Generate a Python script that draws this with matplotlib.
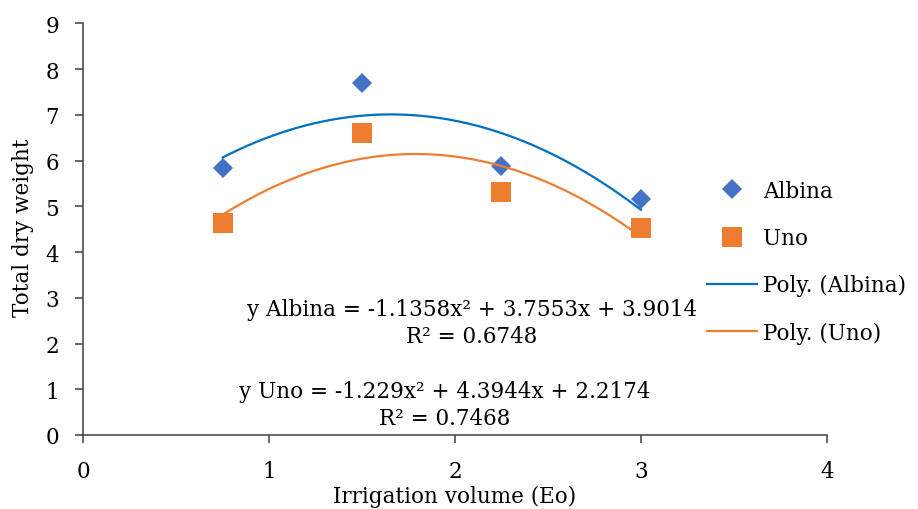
import numpy as np
import matplotlib
matplotlib.use("Agg")
import matplotlib.pyplot as plt

# data
irrigation = [0.75, 1.5, 2.25, 3.0]
albina = [5.83, 7.69, 5.89, 5.16]
uno = [4.63, 6.60, 5.32, 4.52]

x_ticks = [0, 1, 2, 3, 4]
y_ticks = [0, 1, 2, 3, 4, 5, 6, 7, 8, 9]

eq_albina = "y Albina = -1.1358x² + 3.7553x + 3.9014\nR² = 0.6748"
eq_uno = "y Uno = -1.229x² + 4.3944x + 2.2174\nR² = 0.7468"

plt.rcParams['font.family'] = ['DejaVu Serif']
fs = 15.5

fig = plt.figure(figsize=(9.18, 5.10), dpi=100)
ax = fig.add_axes([0.0907, 0.1451, 0.8099, 0.8073])

ax.plot(irrigation, albina, linestyle='none', marker='D', markersize=10.5,
        color='#4472C4', markeredgewidth=0, label='Albina', zorder=3)
ax.plot(irrigation, uno, linestyle='none', marker='s', markersize=14,
        color='#ED7D31', markeredgewidth=0, label='Uno', zorder=3)

# second order trend lines
xs = np.linspace(min(irrigation), max(irrigation), 200)
fit_a = np.polyfit(irrigation, albina, 2)
fit_u = np.polyfit(irrigation, uno, 2)
ax.plot(xs, np.polyval(fit_a, xs), color='#0070C0', linewidth=1.6,
        label='Poly. (Albina)', zorder=4)
ax.plot(xs, np.polyval(fit_u, xs), color='#ED7D31', linewidth=1.6,
        label='Poly. (Uno)', zorder=4)

ax.text(2.09, 2.46, eq_albina, ha='center', va='center', multialignment='center',
        fontsize=fs, linespacing=1.32)
ax.text(1.946, 0.67, eq_uno, ha='center', va='center', multialignment='center',
        fontsize=fs, linespacing=1.32)

ax.set_xlim(0, 4)
ax.set_ylim(0, 9)
ax.set_xticks(x_ticks)
ax.set_yticks(y_ticks)
ax.tick_params(axis='both', labelsize=fs, direction='out', length=5.5, width=1.1,
               color='#404040')
ax.tick_params(axis='y', pad=12)
ax.tick_params(axis='x', pad=12.5)
for s in ['top', 'right']:
    ax.spines[s].set_visible(False)
for s in ['left', 'bottom']:
    ax.spines[s].set_linewidth(1.1)
    ax.spines[s].set_color('#404040')

fig.text(455 / 918, 1 - 497 / 510, 'Irrigation volume (Eo)', ha='center',
         va='center', fontsize=fs)
fig.text(23 / 918, 1 - 228 / 510, 'Total dry weight', ha='center', va='center',
         rotation=90, fontsize=fs)

fig.legend(loc='upper left', bbox_to_anchor=(707 / 918, 1 - 181 / 510),
           frameon=False, fontsize=fs, borderpad=0, borderaxespad=0,
           handlelength=2.3, handletextpad=0.3, labelspacing=1.17)

fig.savefig('out.png', dpi=100)
